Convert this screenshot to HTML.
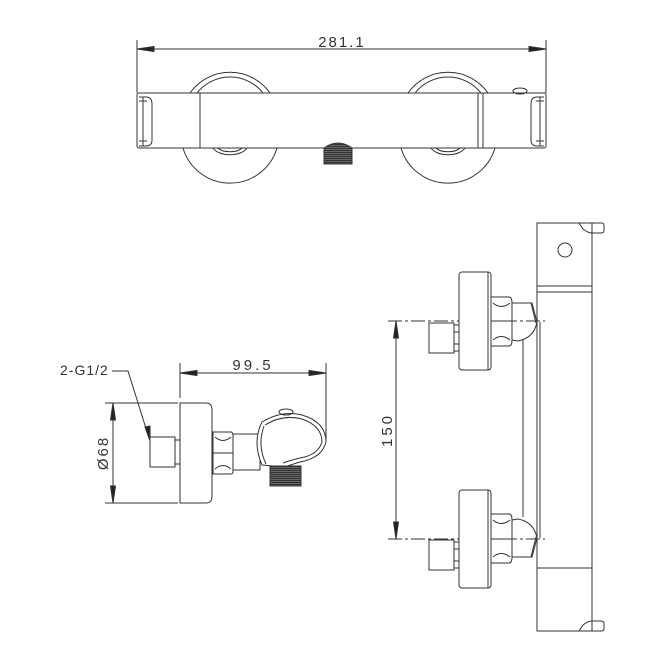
<!DOCTYPE html>
<html><head><style>html,body{margin:0;padding:0;background:#fff}svg{display:block}</style></head>
<body>
<svg width="666" height="666" viewBox="0 0 666 666" xmlns="http://www.w3.org/2000/svg" fill="none" stroke="#333" stroke-width="1">
<defs>
<pattern id="thr" width="3" height="2" patternUnits="userSpaceOnUse"><rect width="3" height="2" fill="#333" stroke="none"/><line x1="0" y1="1.5" x2="3" y2="1.5" stroke="#888" stroke-width="0.6"/></pattern>
</defs>
<!-- TOP VIEW -->
<line x1="137" y1="40" x2="137" y2="93"/>
<line x1="546" y1="40" x2="546" y2="93"/>
<line x1="137" y1="49" x2="546" y2="49"/>
<polygon points="137,49 154,46.5 154,51.5" fill="#222"/>
<polygon points="546,49 529,46.5 529,51.5" fill="#222"/>
<text x="342" y="47" font-family="Liberation Sans Narrow, Liberation Sans, sans-serif" font-size="15" fill="#333" stroke="none" text-anchor="middle" letter-spacing="2">281.1</text>
<!-- wheels -->
<path d="M190 93 A49 49 0 0 1 270 93"/>
<path d="M197 93 A42 42 0 0 1 263 93"/>
<path d="M183 148 A49 49 0 0 0 277 148"/>
<path d="M213 148 A18 10 0 0 0 247 148"/>
<path d="M218 148 A13 6 0 0 0 242 148"/>
<path d="M408 93 A49 49 0 0 1 488 93"/>
<path d="M415 93 A42 42 0 0 1 481 93"/>
<path d="M401 148 A49 49 0 0 0 495 148"/>
<path d="M431 148 A18 10 0 0 0 465 148"/>
<path d="M436 148 A13 6 0 0 0 460 148"/>
<rect x="137" y="93" width="409" height="55" rx="2" fill="#fff"/>
<line x1="200" y1="93" x2="200" y2="148"/>
<line x1="478" y1="93" x2="478" y2="148"/>
<line x1="483" y1="93" x2="483" y2="148"/>
<path d="M139 97 H146 Q152 97 152 104 V140 Q152 146 146 146 H139"/>
<path d="M139 101 H147 M139 141 H147 M143 97 V146"/>
<path d="M544 97 H537 Q531 97 531 104 V140 Q531 146 537 146 H544"/>
<path d="M544 101 H536 M544 141 H536 M540 97 V146"/>
<ellipse cx="520" cy="91" rx="7" ry="3"/>
<path d="M324 164 V148 Q338 138 352 148 V164 Z" fill="url(#thr)"/>
<!-- SIDE VIEW -->
<text x="60" y="375" font-family="Liberation Sans Narrow, Liberation Sans, sans-serif" font-size="14" fill="#333" stroke="none" letter-spacing="1">2-G1/2</text>
<polyline points="112,371 128,371 149,438"/>
<polygon points="150,441 145,427 150,426" fill="#222"/>
<line x1="180" y1="363" x2="180" y2="398"/>
<line x1="326" y1="363" x2="326" y2="440"/>
<line x1="180" y1="373" x2="326" y2="373"/>
<polygon points="180,373 197,370.5 197,375.5" fill="#222"/>
<polygon points="326,373 309,370.5 309,375.5" fill="#222"/>
<text x="253" y="370" font-family="Liberation Sans Narrow, Liberation Sans, sans-serif" font-size="15" fill="#333" stroke="none" text-anchor="middle" letter-spacing="3">99.5</text>
<line x1="105" y1="403" x2="178" y2="403"/>
<line x1="105" y1="503" x2="178" y2="503"/>
<line x1="113" y1="403" x2="113" y2="503"/>
<polygon points="113,403 110.5,420 115.5,420" fill="#222"/>
<polygon points="113,503 110.5,486 115.5,486" fill="#222"/>
<text transform="translate(108,453) rotate(-90)" font-family="Liberation Sans Narrow, Liberation Sans, sans-serif" font-size="15" fill="#333" stroke="none" text-anchor="middle" letter-spacing="2">Ø68</text>
<path d="M180 403 H206 Q212 403 212 410 V496 Q212 503 206 503 H180 Z"/>
<rect x="150" y="437" width="25" height="30"/>
<rect x="175" y="440" width="5" height="24"/>
<path d="M213 432 H231 Q233 432 233 436 V471 Q233 474 231 474 H213 Z"/>
<path d="M213 453 H233 M215 437 Q223 444 231 437 M215 469 Q223 462 231 469"/>
<rect x="233" y="434" width="27" height="36"/>
<path d="M262 422 Q282 410 302 415 Q326 422 326 442 Q322 458 300 462 Q290 465 285 467 L262 465 Q252 442 262 422 Z" fill="#fff"/>
<path d="M265 425 Q283 414 302 419 Q322 426 322 442 Q318 455 300 458 Q288 461 283 463"/>
<path d="M264 426 Q257 445 266 464"/>
<ellipse cx="286" cy="412" rx="7" ry="3"/>
<rect x="270" y="466" width="31" height="20" fill="url(#thr)"/>
<!-- RIGHT VIEW -->
<line x1="396" y1="321" x2="396" y2="539"/>
<polygon points="396,321 393.5,338 398.5,338" fill="#222"/>
<polygon points="396,539 393.5,522 398.5,522" fill="#222"/>
<text transform="translate(392,430) rotate(-90)" font-family="Liberation Sans Narrow, Liberation Sans, sans-serif" font-size="15" fill="#333" stroke="none" text-anchor="middle" letter-spacing="3">150</text>
<line x1="388" y1="321" x2="545" y2="321" stroke-dasharray="14,3,3,3"/>
<line x1="388" y1="539" x2="545" y2="539" stroke-dasharray="14,3,3,3"/>
<rect x="537" y="223" width="55" height="408"/>
<line x1="537" y1="286" x2="592" y2="286"/>
<line x1="537" y1="292" x2="592" y2="292"/>
<line x1="537" y1="568" x2="592" y2="568"/>
<circle cx="565" cy="250" r="7"/>
<path d="M579 223 H602 Q604 223 604 226 V231 Q604 233 600 233 H592 M579 223 L583 229 Q588 233 592 233"/>
<path d="M579 631 H602 Q604 631 604 628 V623 Q604 621 600 621 H592 M579 631 L583 625 Q588 621 592 621"/>
<line x1="523" y1="340" x2="523" y2="517"/>
<line x1="537" y1="322" x2="537" y2="538"/>
<line x1="540" y1="322" x2="540" y2="538"/>
<g>
<rect x="459" y="272" width="32" height="98" rx="3" fill="#fff"/>
<line x1="488" y1="272" x2="488" y2="370"/>
<rect x="429" y="323" width="25" height="30"/>
<path d="M454 325 H459 M454 351 H459 M454 332 H459 M454 344 H459"/>
<path d="M491 297 H509 Q512 297 512 303 V340 Q512 346 509 346 H491 Z"/>
<path d="M491 321 H512 M493 303 Q501 310 510 303 M493 340 Q501 333 510 340"/>
<path d="M512 303 H532 L537 322 Q534 338 518 341 L512 340"/>
<path d="M531 303 L536 323"/>
</g>
<g transform="translate(0,860) scale(1,-1)">
<rect x="459" y="272" width="32" height="98" rx="3" fill="#fff"/>
<line x1="488" y1="272" x2="488" y2="370"/>
<path d="M491 297 H509 Q512 297 512 303 V340 Q512 346 509 346 H491 Z"/>
<path d="M491 321 H512 M493 303 Q501 310 510 303 M493 340 Q501 333 510 340"/>
<path d="M512 303 H532 L537 322 Q534 338 518 341 L512 340"/>
<path d="M531 303 L536 323"/>
</g>
<rect x="429" y="540" width="25" height="30"/>
<path d="M454 542 H459 M454 568 H459 M454 549 H459 M454 561 H459"/>
</svg>
</body></html>
